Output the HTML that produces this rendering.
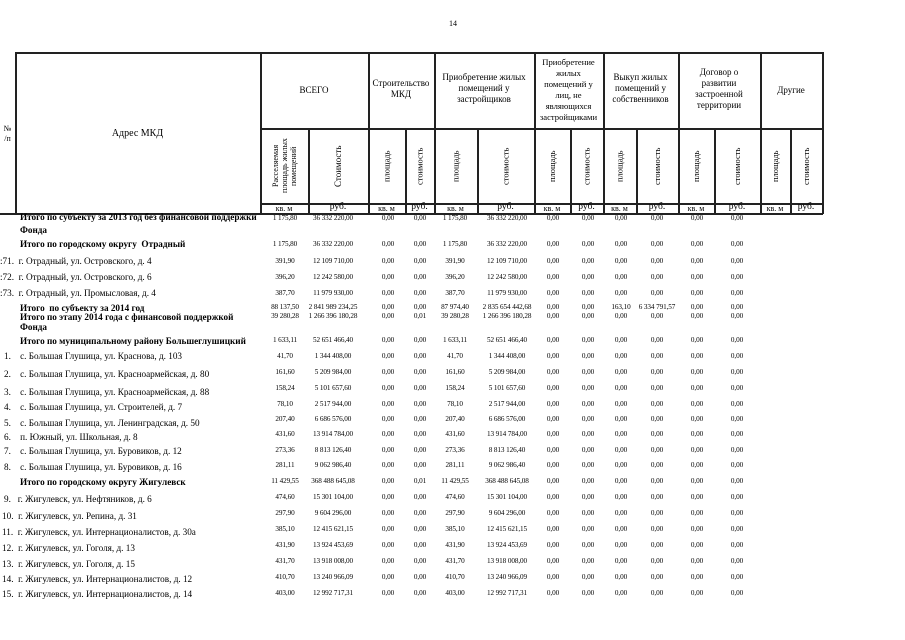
<!DOCTYPE html>
<html><head><meta charset="utf-8"><style>
body{margin:0;width:905px;height:640px;background:#fff;position:relative;overflow:hidden;font-family:"Liberation Serif","DejaVu Serif",serif;color:#000}
.h{position:absolute;height:1.5px;background:#222}
.v{position:absolute;width:1.5px;background:#222}
.t{position:absolute;white-space:nowrap}
.c{position:absolute;text-align:center;font-size:9px;line-height:11px}
.r{position:absolute;writing-mode:vertical-rl;transform:rotate(180deg);font-size:8.5px;line-height:9px;text-align:center;display:flex;align-items:center;justify-content:center}
.n{position:absolute;width:80px;margin-left:-40px;text-align:center;font-size:7.2px;white-space:nowrap;letter-spacing:-0.1px}
.l{position:absolute;font-size:9.2px;white-space:nowrap}
.b{font-weight:bold}
.u{position:absolute;font-size:8px;text-align:center;top:204px}
</style></head><body>
<div class="t" style="left:449px;top:19px;font-size:8px">14</div>
<!-- lines -->
<div class="h" style="left:15px;top:52px;width:808px"></div>
<div class="h" style="left:260px;top:128px;width:563px"></div>
<div class="h" style="left:260px;top:203px;width:563px"></div>
<div class="h" style="left:0;top:213px;width:823px"></div>
<div class="v" style="left:15px;top:52px;height:162px"></div>
<div class="v" style="left:260px;top:52px;height:162px"></div>
<div class="v" style="left:368px;top:52px;height:162px"></div>
<div class="v" style="left:434px;top:52px;height:162px"></div>
<div class="v" style="left:534px;top:52px;height:162px"></div>
<div class="v" style="left:603px;top:52px;height:162px"></div>
<div class="v" style="left:678px;top:52px;height:162px"></div>
<div class="v" style="left:760px;top:52px;height:162px"></div>
<div class="v" style="left:822px;top:52px;height:162px"></div>
<div class="v" style="left:308px;top:128px;height:86px"></div>
<div class="v" style="left:405px;top:128px;height:86px"></div>
<div class="v" style="left:477px;top:128px;height:86px"></div>
<div class="v" style="left:570px;top:128px;height:86px"></div>
<div class="v" style="left:636px;top:128px;height:86px"></div>
<div class="v" style="left:714px;top:128px;height:86px"></div>
<div class="v" style="left:790px;top:128px;height:86px"></div>
<!-- header texts -->
<div class="c" style="left:0;top:124px;width:15px;font-size:8px;line-height:10px">№<br>/п</div>
<div class="c" style="left:15px;top:128px;width:245px;font-size:10px">Адрес МКД</div>
<div class="c" style="left:260px;top:85px;width:108px">ВСЕГО</div>
<div class="c" style="left:368px;top:78px;width:66px">Строительство<br>МКД</div>
<div class="c" style="left:434px;top:72px;width:100px">Приобретение жилых<br>помещений у<br>застройщиков</div>
<div class="c" style="left:534px;top:57px;width:69px;font-size:8.6px;line-height:11px">Приобретение<br>жилых<br>помещений у<br>лиц, не<br>являющихся<br>застройщиками</div>
<div class="c" style="left:603px;top:72px;width:75px">Выкуп жилых<br>помещений у<br>собственников</div>
<div class="c" style="left:678px;top:67px;width:82px">Договор о<br>развитии<br>застроенной<br>территории</div>
<div class="c" style="left:760px;top:85px;width:62px">Другие</div>
<div class="r" style="left:261px;top:129px;width:47px;height:74px;font-size:8px">Расселяемая<br>площадь жилых<br>помещений</div>
<div class="r" style="left:309px;top:129px;width:59px;height:74px;font-size:9px">Стоимость</div>
<div class="r" style="left:369px;top:129px;width:36px;height:74px">площадь</div>
<div class="r" style="left:406px;top:129px;width:28px;height:74px">стоимость</div>
<div class="r" style="left:435px;top:129px;width:42px;height:74px">площадь</div>
<div class="r" style="left:478px;top:129px;width:56px;height:74px">стоимость</div>
<div class="r" style="left:535px;top:129px;width:35px;height:74px">площадь</div>
<div class="r" style="left:571px;top:129px;width:32px;height:74px">стоимость</div>
<div class="r" style="left:604px;top:129px;width:32px;height:74px">площадь</div>
<div class="r" style="left:637px;top:129px;width:41px;height:74px">стоимость</div>
<div class="r" style="left:679px;top:129px;width:35px;height:74px">площадь</div>
<div class="r" style="left:715px;top:129px;width:45px;height:74px">стоимость</div>
<div class="r" style="left:761px;top:129px;width:29px;height:74px">площадь</div>
<div class="r" style="left:791px;top:129px;width:31px;height:74px">стоимость</div>
<div class="u" style="left:260px;width:48px">кв. м</div>
<div class="u" style="left:308px;width:60px;font-size:9.5px;top:202px">руб.</div>
<div class="u" style="left:368px;width:37px">кв. м</div>
<div class="u" style="left:405px;width:29px;font-size:9.5px;top:202px">руб.</div>
<div class="u" style="left:434px;width:43px">кв. м</div>
<div class="u" style="left:477px;width:57px;font-size:9.5px;top:202px">руб.</div>
<div class="u" style="left:534px;width:36px">кв. м</div>
<div class="u" style="left:570px;width:33px;font-size:9.5px;top:202px">руб.</div>
<div class="u" style="left:603px;width:33px">кв. м</div>
<div class="u" style="left:636px;width:42px;font-size:9.5px;top:202px">руб.</div>
<div class="u" style="left:678px;width:36px">кв. м</div>
<div class="u" style="left:714px;width:46px;font-size:9.5px;top:202px">руб.</div>
<div class="u" style="left:760px;width:30px">кв. м</div>
<div class="u" style="left:790px;width:32px;font-size:9.5px;top:202px">руб.</div>

<!-- row labels -->
<div class="l b" style="left:20px;top:212px">Итого по субъекту за 2013 год без финансовой поддержки</div>
<div class="l b" style="left:20px;top:225px">Фонда</div>
<div class="l b" style="left:20px;top:239px">Итого по городскому округу&nbsp; Отрадный</div>
<div class="l" style="left:0;top:256px">:71.&nbsp; г. Отрадный, ул. Островского, д. 4</div>
<div class="l" style="left:0;top:272px">:72.&nbsp; г. Отрадный, ул. Островского, д. 6</div>
<div class="l" style="left:0;top:288px">:73.&nbsp; г. Отрадный, ул. Промысловая, д. 4</div>
<div class="l b" style="left:20px;top:303px">Итого&nbsp; по субъекту за 2014 год</div>
<div class="l b" style="left:20px;top:312px">Итого по этапу 2014 года с финансовой поддержкой</div>
<div class="l b" style="left:20px;top:322px">Фонда</div>
<div class="l b" style="left:20px;top:336px">Итого по муниципальному району Большеглушицкий</div>
<div class="l" style="left:4px;top:351px">1.&nbsp;&nbsp;&nbsp; с. Большая Глушица, ул. Краснова, д. 103</div>
<div class="l" style="left:4px;top:369px">2.&nbsp;&nbsp;&nbsp; с. Большая Глушица, ул. Красноармейская, д. 80</div>
<div class="l" style="left:4px;top:387px">3.&nbsp;&nbsp;&nbsp; с. Большая Глушица, ул. Красноармейская, д. 88</div>
<div class="l" style="left:4px;top:402px">4.&nbsp;&nbsp;&nbsp; с. Большая Глушица, ул. Строителей, д. 7</div>
<div class="l" style="left:4px;top:418px">5.&nbsp;&nbsp;&nbsp; с. Большая Глушица, ул. Ленинградская, д. 50</div>
<div class="l" style="left:4px;top:432px">6.&nbsp;&nbsp;&nbsp; п. Южный, ул. Школьная, д. 8</div>
<div class="l" style="left:4px;top:446px">7.&nbsp;&nbsp;&nbsp; с. Большая Глушица, ул. Буровиков, д. 12</div>
<div class="l" style="left:4px;top:462px">8.&nbsp;&nbsp;&nbsp; с. Большая Глушица, ул. Буровиков, д. 16</div>
<div class="l b" style="left:20px;top:477px">Итого по городскому округу Жигулевск</div>
<div class="l" style="left:4px;top:494px">9.&nbsp;&nbsp; г. Жигулевск, ул. Нефтяников, д. 6</div>
<div class="l" style="left:2px;top:511px">10.&nbsp; г. Жигулевск, ул. Репина, д. 31</div>
<div class="l" style="left:2px;top:527px">11.&nbsp; г. Жигулевск, ул. Интернационалистов, д. 30а</div>
<div class="l" style="left:2px;top:543px">12.&nbsp; г. Жигулевск, ул. Гоголя, д. 13</div>
<div class="l" style="left:2px;top:559px">13.&nbsp; г. Жигулевск, ул. Гоголя, д. 15</div>
<div class="l" style="left:2px;top:574px">14.&nbsp; г. Жигулевск, ул. Интернационалистов, д. 12</div>
<div class="l" style="left:2px;top:589px">15.&nbsp; г. Жигулевск, ул. Интернационалистов, д. 14</div>

<!-- numbers -->
<div style="position:absolute;left:0;top:214px">
<div class="n" style="left:285px">1 175,80</div><div class="n" style="left:333px">36 332 220,00</div><div class="n" style="left:388px">0,00</div><div class="n" style="left:420px">0,00</div><div class="n" style="left:455px">1 175,80</div><div class="n" style="left:507px">36 332 220,00</div><div class="n" style="left:553px">0,00</div><div class="n" style="left:588px">0,00</div><div class="n" style="left:621px">0,00</div><div class="n" style="left:657px">0,00</div><div class="n" style="left:697px">0,00</div><div class="n" style="left:737px">0,00</div></div>
<div style="position:absolute;left:0;top:240px">
<div class="n" style="left:285px">1 175,80</div><div class="n" style="left:333px">36 332 220,00</div><div class="n" style="left:388px">0,00</div><div class="n" style="left:420px">0,00</div><div class="n" style="left:455px">1 175,80</div><div class="n" style="left:507px">36 332 220,00</div><div class="n" style="left:553px">0,00</div><div class="n" style="left:588px">0,00</div><div class="n" style="left:621px">0,00</div><div class="n" style="left:657px">0,00</div><div class="n" style="left:697px">0,00</div><div class="n" style="left:737px">0,00</div></div>
<div style="position:absolute;left:0;top:257px">
<div class="n" style="left:285px">391,90</div><div class="n" style="left:333px">12 109 710,00</div><div class="n" style="left:388px">0,00</div><div class="n" style="left:420px">0,00</div><div class="n" style="left:455px">391,90</div><div class="n" style="left:507px">12 109 710,00</div><div class="n" style="left:553px">0,00</div><div class="n" style="left:588px">0,00</div><div class="n" style="left:621px">0,00</div><div class="n" style="left:657px">0,00</div><div class="n" style="left:697px">0,00</div><div class="n" style="left:737px">0,00</div></div>
<div style="position:absolute;left:0;top:273px">
<div class="n" style="left:285px">396,20</div><div class="n" style="left:333px">12 242 580,00</div><div class="n" style="left:388px">0,00</div><div class="n" style="left:420px">0,00</div><div class="n" style="left:455px">396,20</div><div class="n" style="left:507px">12 242 580,00</div><div class="n" style="left:553px">0,00</div><div class="n" style="left:588px">0,00</div><div class="n" style="left:621px">0,00</div><div class="n" style="left:657px">0,00</div><div class="n" style="left:697px">0,00</div><div class="n" style="left:737px">0,00</div></div>
<div style="position:absolute;left:0;top:289px">
<div class="n" style="left:285px">387,70</div><div class="n" style="left:333px">11 979 930,00</div><div class="n" style="left:388px">0,00</div><div class="n" style="left:420px">0,00</div><div class="n" style="left:455px">387,70</div><div class="n" style="left:507px">11 979 930,00</div><div class="n" style="left:553px">0,00</div><div class="n" style="left:588px">0,00</div><div class="n" style="left:621px">0,00</div><div class="n" style="left:657px">0,00</div><div class="n" style="left:697px">0,00</div><div class="n" style="left:737px">0,00</div></div>
<div style="position:absolute;left:0;top:303px">
<div class="n" style="left:285px">88 137,50</div><div class="n" style="left:333px">2 841 989 234,25</div><div class="n" style="left:388px">0,00</div><div class="n" style="left:420px">0,00</div><div class="n" style="left:455px">87 974,40</div><div class="n" style="left:507px">2 835 654 442,68</div><div class="n" style="left:553px">0,00</div><div class="n" style="left:588px">0,00</div><div class="n" style="left:621px">163,10</div><div class="n" style="left:657px">6 334 791,57</div><div class="n" style="left:697px">0,00</div><div class="n" style="left:737px">0,00</div></div>
<div style="position:absolute;left:0;top:312px">
<div class="n" style="left:285px">39 280,28</div><div class="n" style="left:333px">1 266 396 180,28</div><div class="n" style="left:388px">0,00</div><div class="n" style="left:420px">0,01</div><div class="n" style="left:455px">39 280,28</div><div class="n" style="left:507px">1 266 396 180,28</div><div class="n" style="left:553px">0,00</div><div class="n" style="left:588px">0,00</div><div class="n" style="left:621px">0,00</div><div class="n" style="left:657px">0,00</div><div class="n" style="left:697px">0,00</div><div class="n" style="left:737px">0,00</div></div>
<div style="position:absolute;left:0;top:336px">
<div class="n" style="left:285px">1 633,11</div><div class="n" style="left:333px">52 651 466,40</div><div class="n" style="left:388px">0,00</div><div class="n" style="left:420px">0,00</div><div class="n" style="left:455px">1 633,11</div><div class="n" style="left:507px">52 651 466,40</div><div class="n" style="left:553px">0,00</div><div class="n" style="left:588px">0,00</div><div class="n" style="left:621px">0,00</div><div class="n" style="left:657px">0,00</div><div class="n" style="left:697px">0,00</div><div class="n" style="left:737px">0,00</div></div>
<div style="position:absolute;left:0;top:352px">
<div class="n" style="left:285px">41,70</div><div class="n" style="left:333px">1 344 408,00</div><div class="n" style="left:388px">0,00</div><div class="n" style="left:420px">0,00</div><div class="n" style="left:455px">41,70</div><div class="n" style="left:507px">1 344 408,00</div><div class="n" style="left:553px">0,00</div><div class="n" style="left:588px">0,00</div><div class="n" style="left:621px">0,00</div><div class="n" style="left:657px">0,00</div><div class="n" style="left:697px">0,00</div><div class="n" style="left:737px">0,00</div></div>
<div style="position:absolute;left:0;top:368px">
<div class="n" style="left:285px">161,60</div><div class="n" style="left:333px">5 209 984,00</div><div class="n" style="left:388px">0,00</div><div class="n" style="left:420px">0,00</div><div class="n" style="left:455px">161,60</div><div class="n" style="left:507px">5 209 984,00</div><div class="n" style="left:553px">0,00</div><div class="n" style="left:588px">0,00</div><div class="n" style="left:621px">0,00</div><div class="n" style="left:657px">0,00</div><div class="n" style="left:697px">0,00</div><div class="n" style="left:737px">0,00</div></div>
<div style="position:absolute;left:0;top:384px">
<div class="n" style="left:285px">158,24</div><div class="n" style="left:333px">5 101 657,60</div><div class="n" style="left:388px">0,00</div><div class="n" style="left:420px">0,00</div><div class="n" style="left:455px">158,24</div><div class="n" style="left:507px">5 101 657,60</div><div class="n" style="left:553px">0,00</div><div class="n" style="left:588px">0,00</div><div class="n" style="left:621px">0,00</div><div class="n" style="left:657px">0,00</div><div class="n" style="left:697px">0,00</div><div class="n" style="left:737px">0,00</div></div>
<div style="position:absolute;left:0;top:400px">
<div class="n" style="left:285px">78,10</div><div class="n" style="left:333px">2 517 944,00</div><div class="n" style="left:388px">0,00</div><div class="n" style="left:420px">0,00</div><div class="n" style="left:455px">78,10</div><div class="n" style="left:507px">2 517 944,00</div><div class="n" style="left:553px">0,00</div><div class="n" style="left:588px">0,00</div><div class="n" style="left:621px">0,00</div><div class="n" style="left:657px">0,00</div><div class="n" style="left:697px">0,00</div><div class="n" style="left:737px">0,00</div></div>
<div style="position:absolute;left:0;top:415px">
<div class="n" style="left:285px">207,40</div><div class="n" style="left:333px">6 686 576,00</div><div class="n" style="left:388px">0,00</div><div class="n" style="left:420px">0,00</div><div class="n" style="left:455px">207,40</div><div class="n" style="left:507px">6 686 576,00</div><div class="n" style="left:553px">0,00</div><div class="n" style="left:588px">0,00</div><div class="n" style="left:621px">0,00</div><div class="n" style="left:657px">0,00</div><div class="n" style="left:697px">0,00</div><div class="n" style="left:737px">0,00</div></div>
<div style="position:absolute;left:0;top:430px">
<div class="n" style="left:285px">431,60</div><div class="n" style="left:333px">13 914 784,00</div><div class="n" style="left:388px">0,00</div><div class="n" style="left:420px">0,00</div><div class="n" style="left:455px">431,60</div><div class="n" style="left:507px">13 914 784,00</div><div class="n" style="left:553px">0,00</div><div class="n" style="left:588px">0,00</div><div class="n" style="left:621px">0,00</div><div class="n" style="left:657px">0,00</div><div class="n" style="left:697px">0,00</div><div class="n" style="left:737px">0,00</div></div>
<div style="position:absolute;left:0;top:446px">
<div class="n" style="left:285px">273,36</div><div class="n" style="left:333px">8 813 126,40</div><div class="n" style="left:388px">0,00</div><div class="n" style="left:420px">0,00</div><div class="n" style="left:455px">273,36</div><div class="n" style="left:507px">8 813 126,40</div><div class="n" style="left:553px">0,00</div><div class="n" style="left:588px">0,00</div><div class="n" style="left:621px">0,00</div><div class="n" style="left:657px">0,00</div><div class="n" style="left:697px">0,00</div><div class="n" style="left:737px">0,00</div></div>
<div style="position:absolute;left:0;top:461px">
<div class="n" style="left:285px">281,11</div><div class="n" style="left:333px">9 062 986,40</div><div class="n" style="left:388px">0,00</div><div class="n" style="left:420px">0,00</div><div class="n" style="left:455px">281,11</div><div class="n" style="left:507px">9 062 986,40</div><div class="n" style="left:553px">0,00</div><div class="n" style="left:588px">0,00</div><div class="n" style="left:621px">0,00</div><div class="n" style="left:657px">0,00</div><div class="n" style="left:697px">0,00</div><div class="n" style="left:737px">0,00</div></div>
<div style="position:absolute;left:0;top:477px">
<div class="n" style="left:285px">11 429,55</div><div class="n" style="left:333px">368 488 645,08</div><div class="n" style="left:388px">0,00</div><div class="n" style="left:420px">0,01</div><div class="n" style="left:455px">11 429,55</div><div class="n" style="left:507px">368 488 645,08</div><div class="n" style="left:553px">0,00</div><div class="n" style="left:588px">0,00</div><div class="n" style="left:621px">0,00</div><div class="n" style="left:657px">0,00</div><div class="n" style="left:697px">0,00</div><div class="n" style="left:737px">0,00</div></div>
<div style="position:absolute;left:0;top:493px">
<div class="n" style="left:285px">474,60</div><div class="n" style="left:333px">15 301 104,00</div><div class="n" style="left:388px">0,00</div><div class="n" style="left:420px">0,00</div><div class="n" style="left:455px">474,60</div><div class="n" style="left:507px">15 301 104,00</div><div class="n" style="left:553px">0,00</div><div class="n" style="left:588px">0,00</div><div class="n" style="left:621px">0,00</div><div class="n" style="left:657px">0,00</div><div class="n" style="left:697px">0,00</div><div class="n" style="left:737px">0,00</div></div>
<div style="position:absolute;left:0;top:509px">
<div class="n" style="left:285px">297,90</div><div class="n" style="left:333px">9 604 296,00</div><div class="n" style="left:388px">0,00</div><div class="n" style="left:420px">0,00</div><div class="n" style="left:455px">297,90</div><div class="n" style="left:507px">9 604 296,00</div><div class="n" style="left:553px">0,00</div><div class="n" style="left:588px">0,00</div><div class="n" style="left:621px">0,00</div><div class="n" style="left:657px">0,00</div><div class="n" style="left:697px">0,00</div><div class="n" style="left:737px">0,00</div></div>
<div style="position:absolute;left:0;top:525px">
<div class="n" style="left:285px">385,10</div><div class="n" style="left:333px">12 415 621,15</div><div class="n" style="left:388px">0,00</div><div class="n" style="left:420px">0,00</div><div class="n" style="left:455px">385,10</div><div class="n" style="left:507px">12 415 621,15</div><div class="n" style="left:553px">0,00</div><div class="n" style="left:588px">0,00</div><div class="n" style="left:621px">0,00</div><div class="n" style="left:657px">0,00</div><div class="n" style="left:697px">0,00</div><div class="n" style="left:737px">0,00</div></div>
<div style="position:absolute;left:0;top:541px">
<div class="n" style="left:285px">431,90</div><div class="n" style="left:333px">13 924 453,69</div><div class="n" style="left:388px">0,00</div><div class="n" style="left:420px">0,00</div><div class="n" style="left:455px">431,90</div><div class="n" style="left:507px">13 924 453,69</div><div class="n" style="left:553px">0,00</div><div class="n" style="left:588px">0,00</div><div class="n" style="left:621px">0,00</div><div class="n" style="left:657px">0,00</div><div class="n" style="left:697px">0,00</div><div class="n" style="left:737px">0,00</div></div>
<div style="position:absolute;left:0;top:557px">
<div class="n" style="left:285px">431,70</div><div class="n" style="left:333px">13 918 008,00</div><div class="n" style="left:388px">0,00</div><div class="n" style="left:420px">0,00</div><div class="n" style="left:455px">431,70</div><div class="n" style="left:507px">13 918 008,00</div><div class="n" style="left:553px">0,00</div><div class="n" style="left:588px">0,00</div><div class="n" style="left:621px">0,00</div><div class="n" style="left:657px">0,00</div><div class="n" style="left:697px">0,00</div><div class="n" style="left:737px">0,00</div></div>
<div style="position:absolute;left:0;top:573px">
<div class="n" style="left:285px">410,70</div><div class="n" style="left:333px">13 240 966,09</div><div class="n" style="left:388px">0,00</div><div class="n" style="left:420px">0,00</div><div class="n" style="left:455px">410,70</div><div class="n" style="left:507px">13 240 966,09</div><div class="n" style="left:553px">0,00</div><div class="n" style="left:588px">0,00</div><div class="n" style="left:621px">0,00</div><div class="n" style="left:657px">0,00</div><div class="n" style="left:697px">0,00</div><div class="n" style="left:737px">0,00</div></div>
<div style="position:absolute;left:0;top:589px">
<div class="n" style="left:285px">403,00</div><div class="n" style="left:333px">12 992 717,31</div><div class="n" style="left:388px">0,00</div><div class="n" style="left:420px">0,00</div><div class="n" style="left:455px">403,00</div><div class="n" style="left:507px">12 992 717,31</div><div class="n" style="left:553px">0,00</div><div class="n" style="left:588px">0,00</div><div class="n" style="left:621px">0,00</div><div class="n" style="left:657px">0,00</div><div class="n" style="left:697px">0,00</div><div class="n" style="left:737px">0,00</div></div>
</body></html>
